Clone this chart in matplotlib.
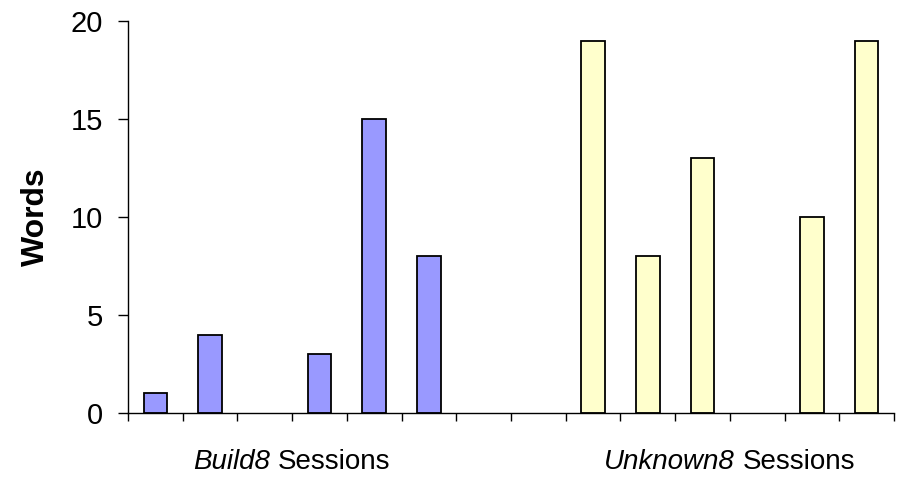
import numpy as np
import matplotlib
matplotlib.use("Agg")
import matplotlib.pyplot as plt
from matplotlib.offsetbox import TextArea, HPacker, AnnotationBbox

plt.rcParams['font.family'] = ['Liberation Sans', 'DejaVu Sans']

# datos (0 = sin barra)
build8_pos = [0, 1, 2, 3, 4, 5]
build8_words = [1, 4, 0, 3, 15, 8]
unknown8_pos = [8, 9, 10, 11, 12, 13]
unknown8_words = [19, 8, 13, 0, 10, 19]
group_names = ["Build8", "Unknown8"]
yticks = [0, 5, 10, 15, 20]

fig = plt.figure(figsize=(8.97, 4.79), dpi=100)
ax = fig.add_axes([128/897, 1-413/479, 766/897, 392/479])

def barras(pos, vals, cor):
    pos = np.array(pos)
    vals = np.array(vals)
    m = vals > 0
    ax.bar(pos[m], vals[m], width=0.43, color=cor, edgecolor="black", linewidth=1.3)

barras(build8_pos, build8_words, "#9999FF")
barras(unknown8_pos, unknown8_words, "#FFFFCC")

ax.set_xlim(-0.5, 13.5)
ax.set_ylim(0, 20)
ax.set_yticks(yticks)
ax.set_xticks(np.arange(-0.5, 14, 1.0))
ax.set_xticklabels([])
ax.tick_params(axis="y", direction="out", length=7, width=1, labelsize=21, pad=11)
ax.tick_params(axis="x", direction="out", length=6, width=1)

for s in ["top", "right"]:
    ax.spines[s].set_visible(False)
ax.spines["left"].set_linewidth(1)
ax.spines["bottom"].set_linewidth(1)

ax.set_ylabel("Words", fontsize=23, fontweight="bold", labelpad=14)

trans = matplotlib.transforms.blended_transform_factory(ax.transData, fig.transFigure)
for nome, pos in zip(group_names, [build8_pos, unknown8_pos]):
    caixa = HPacker(children=[TextArea(nome, textprops=dict(style="italic", size=20)),
                              TextArea("Sessions", textprops=dict(size=20))],
                    pad=0, sep=5.5, align="baseline")
    ab = AnnotationBbox(caixa, (np.mean(pos), 1-462/479), xycoords=trans,
                        frameon=False, box_alignment=(0.5, 0.5), pad=0)
    ax.add_artist(ab)

plt.savefig("out.png", dpi=100)
